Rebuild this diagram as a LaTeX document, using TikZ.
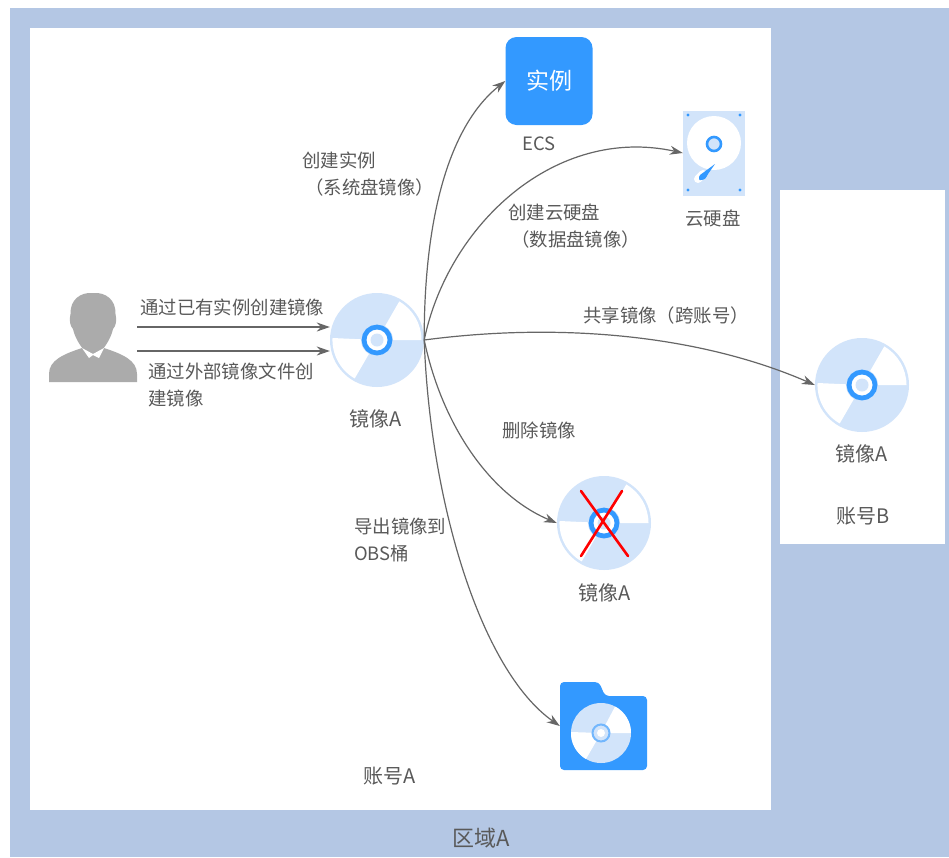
\documentclass[tikz,border=0pt]{standalone}
\usepackage{fontspec}
\setmainfont{Noto Sans CJK SC}
\usetikzlibrary{arrows.meta}
\definecolor{regionblue}{HTML}{B4C7E4}
\definecolor{disclight}{HTML}{D2E4FA}
\definecolor{iconblue}{HTML}{3399FF}
\definecolor{ink}{HTML}{595959}
\definecolor{personfill}{HTML}{ABABAB}
\definecolor{lineink}{HTML}{666666}
\tikzset{
  x=1pt,y=-1pt,
  lbl/.style={text=ink,font=\fontsize{18.4}{27}\selectfont,inner sep=0pt,align=left},
  bigger/.style={font=\fontsize{20}{27}\selectfont},
  conn/.style={draw=lineink,line width=1.2pt,-{Stealth[length=13pt,width=9pt]}},
  anchorbox/.style={inner sep=0pt,minimum width=#1,minimum height=#1,shape=circle},
  rectbox/.style={inner sep=0pt,shape=rectangle},
  pics/disc/.style={code={
    \fill[disclight] (0,0) circle[radius=47];
    \fill[white] (0,0) -- (44.5,0) arc[start angle=0,end angle=-60,radius=44.5] -- cycle;
    \fill[white] (0,0) -- (-44.5,-2) arc[start angle=182.5,end angle=120,radius=44.5] -- cycle;
    \fill[disclight] (0,0) circle[radius=16];
    \draw[iconblue,line width=4.8pt,fill=white] (0,0) circle[radius=13];
    \fill[disclight] (0,0) circle[radius=6.5];
  }},
}
\begin{document}
\begin{tikzpicture}
\useasboundingbox (0,0) rectangle (949,857);
\fill[white] (0,0) rectangle (949,857);
\fill[regionblue] (10,8) rectangle (949,857);
\fill[white] (30,28) rectangle (771,810);
\fill[white] (780,190) rectangle (945,544);

% person
\fill[personfill] (49,382) -- (49,374) .. controls (49,360) and (64,354) .. (82,348) -- (104,348)
  .. controls (122,354) and (137,360) .. (137,374) -- (137,382) -- cycle;
\fill[personfill] (93,293) .. controls (106,292) and (116,300) .. (115.5,314) .. controls (117,320) and (116,326) .. (113,329)
  .. controls (111,338) and (106,345) .. (103,349) -- (83,349) .. controls (80,345) and (75,338) .. (73,329) .. controls (70,326) and (69,320) .. (70.5,314)
  .. controls (70,300) and (80,292) .. (93,293) -- cycle;
\fill[white] (82,348) -- (89,358) -- (93,355) -- (99,358) -- (104,348) -- (93,354) -- cycle;
\node[anchorbox=88,draw=none] (person) at (93,338) {};
\coordinate (startA) at (137,327);
\coordinate (startB) at (137,351);

% discs
\pic at (377,340) {disc};
\node[anchorbox=94] (discA) at (377,340) {};
\pic at (862,385) {disc};
\node[anchorbox=94] (discB) at (862,385) {};
\pic at (604,523) {disc};
\node[anchorbox=94] (discC) at (604,523) {};
\draw[red,line width=2.6pt,line cap=round] (581,491) -- (628,556) (622,491) -- (581,556);

% ECS
\node[rectbox,fill=iconblue,rounded corners=11pt,minimum width=87,minimum height=88,text=white,font=\fontsize{23}{26}\selectfont] (ecs) at (549,81) {实例};

% cloud disk
\node[rectbox,fill=disclight,minimum width=62,minimum height=85] (hdd) at (714,153) {};
\fill[iconblue] (688,115) circle[radius=1.6] (740,115) circle[radius=1.6] (688,190) circle[radius=1.6] (740,190) circle[radius=1.6];
\fill[white] (714,143) circle[radius=27];
\draw[iconblue,line width=2.6pt,fill=disclight] (714,144) circle[radius=7];
\draw[white,line width=8pt,line cap=round] (698,179) -- (703,174);
\fill[iconblue] (715,164) -- (700,175) .. controls (698,178) and (699,181) .. (701,180) .. controls (705,180) and (706,178) .. (708,174) -- cycle;

% folder
\path[fill=iconblue,rounded corners=4pt] (560,770) -- (560,682) -- (599,682) -- (605,696) -- (647,696) -- (647,770) -- cycle;
\node[rectbox,minimum width=87,minimum height=88] (folder) at (603.5,726) {};
\fill[disclight] (601,733) circle[radius=30];
\fill[white] (601,733) -- (631,733) arc[start angle=0,end angle=-62,radius=30] -- cycle;
\fill[white] (601,733) -- (571,732) arc[start angle=182,end angle=120,radius=30] -- cycle;
\draw[line width=2pt,draw=iconblue!60!disclight,fill=disclight] (601,733) circle[radius=8.5];
\fill[white] (601,733) circle[radius=4];

% connectors
\draw[conn] (startA) -- (discA.west |- startA);
\draw[conn] (startB) -- (discA.west |- startB);
\draw[conn] (discA.east) .. controls (424,215) and (450,125) .. (ecs.west);
\draw[conn] (discA.east) .. controls (448,225) and (555,125) .. (hdd.west);
\draw[conn] (discA.east) .. controls (560,322) and (700,335) .. (discB.west);
\draw[conn] (discA.east) .. controls (442,425) and (490,495) .. (discC.west);
\draw[conn] (discA.east) .. controls (430,500) and (480,670) .. (folder.west);

% labels
\node[lbl,anchor=west] (t1) at (140,307) {通过已有实例创建镜像};
\node[lbl,anchor=north west] (t2) at (148,363) {通过外部镜像文件创\\建镜像};
\node[lbl,bigger,anchor=north] (t3) at (376,409) {镜像A};
\node[lbl,anchor=north west] (t4) at (302,152) {创建实例\\\hspace*{3pt}（系统盘镜像）};
\node[lbl,anchor=north] (t5) at (539,137) {ECS};
\node[lbl,anchor=north west] (t6) at (508,204) {创建云硬盘\\\hspace*{3pt}（数据盘镜像）};
\node[lbl,anchor=north] (t7) at (713,210) {云硬盘};
\node[lbl,anchor=west] (t8) at (583,316) {共享镜像（跨账号）};
\node[lbl,anchor=west] (t9) at (502,430) {删除镜像};
\node[lbl,bigger,anchor=north] (t10) at (862,444) {镜像A};
\node[lbl,bigger,anchor=north] (t11) at (863,507) {账号B};
\node[lbl,bigger,anchor=north] (t12) at (605,583) {镜像A};
\node[lbl,anchor=north west] (t13) at (354,518) {导出镜像到\\OBS桶};
\node[lbl,bigger,anchor=north] (t14) at (390,767) {账号A};
\node[lbl,anchor=north,font=\fontsize{22}{27}\selectfont] (t15) at (481,828) {区域A};
\end{tikzpicture}
\end{document}
